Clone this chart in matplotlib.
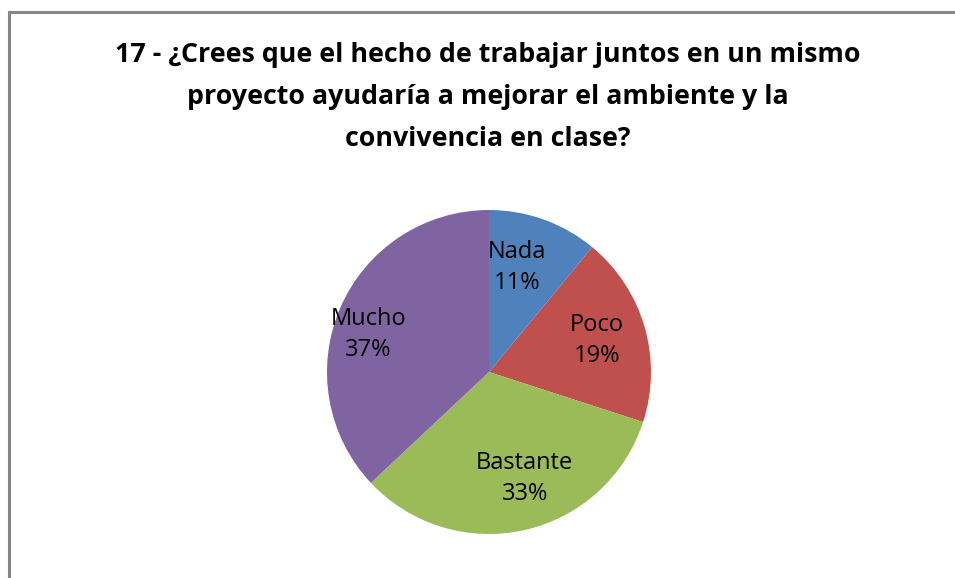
import numpy as np
import matplotlib.pyplot as plt
from matplotlib.lines import Line2D

categories = ["Nada", "Poco", "Bastante", "Mucho"]
values = [11, 19, 33, 37]
colors = ["#4F81BD", "#C0504D", "#9BBB59", "#8064A2"]
title = ("17 - ¿Crees que el hecho de trabajar juntos en un mismo\n"
         "proyecto ayudaría a mejorar el ambiente y la\n"
         "convivencia en clase?")

W, H = 955, 578
fig = plt.figure(figsize=(W / 100, H / 100), dpi=100)

# chart frame (only top and left edges are visible in the crop)
fig.add_artist(Line2D([8.5 / W, 8.5 / W], [0, 1 - 12 / H], transform=fig.transFigure,
                      color="#868686", lw=2.2))
fig.add_artist(Line2D([8.5 / W, 1], [1 - 12 / H, 1 - 12 / H], transform=fig.transFigure,
                      color="#868686", lw=2.2))

cx, cy, r = 489, 372, 162
ax = fig.add_axes([(cx - r) / W, (H - cy - r) / H, 2 * r / W, 2 * r / H])
labels = [f"{c}\n{v}%" for c, v in zip(categories, values)]
wedges, texts = ax.pie(values, colors=colors, labels=labels, startangle=90,
                       counterclock=False, labeldistance=0.68,
                       textprops=dict(fontsize=17, family="Open Sans",
                                      ha="center", va="center", linespacing=1.4))
# nudge labels (radial scale, rotation in degrees) like Excel's best-fit placement
nudges = [(0.98, 4.7), (1.02, 0.0), (1.02, 6.0), (1.15, 6.0)]
for t, (k, rot) in zip(texts, nudges):
    x, y = t.get_position()
    a = np.deg2rad(rot)
    t.set_position((k * (x * np.cos(a) - y * np.sin(a)),
                    k * (x * np.sin(a) + y * np.cos(a))))
ax.set_xlim(-1, 1)
ax.set_ylim(-1, 1)
ax.set_aspect("equal")

fig.text(488 / W, 1 - 97 / H, title, ha="center", va="center", fontsize=19.3,
         fontweight="bold", family="Open Sans", linespacing=1.78)

fig.savefig("out.png", dpi=100)
